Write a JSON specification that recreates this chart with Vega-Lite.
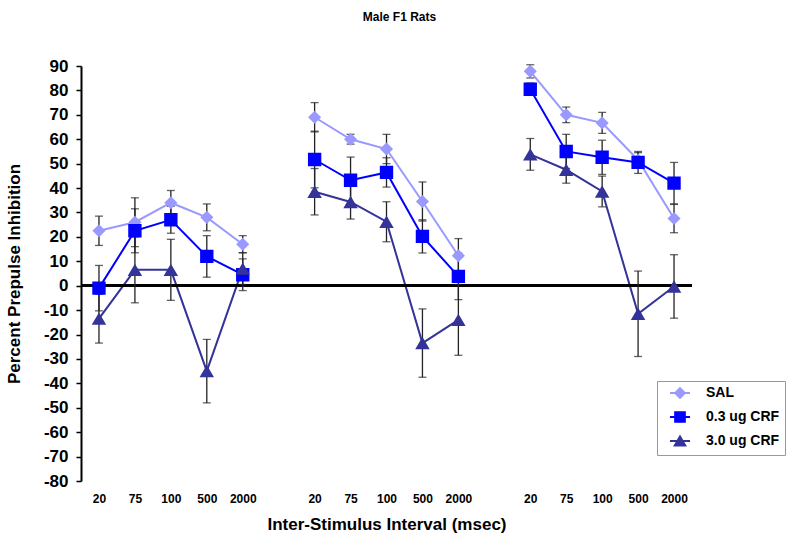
{
  "$schema": "https://vega.github.io/schema/vega-lite/v6.json",
  "width": 611,
  "height": 415,
  "autosize": {"type": "none"},
  "padding": {"left": 81, "top": 66, "right": 108, "bottom": 59},
  "background": "white",
  "title": {"text": "Male F1 Rats", "fontSize": 12, "font": "Liberation Sans", "fontWeight": "bold", "color": "black", "anchor": "middle", "offset": 33, "dx": 13},
  "config": {
    "view": {"stroke": null},
    "font": "Liberation Sans",
    "axisY": {"labelOverlap": false, "grid": false, "domainColor": "black", "domainWidth": 2, "tickColor": "black", "tickWidth": 1.5, "tickSize": 5,
      "labelPadding": 8, "labelFontSize": 17, "labelFontWeight": "bold", "labelColor": "black",
      "titleFontSize": 17, "titleFontWeight": "bold", "titleColor": "black", "titlePadding": 20},
    "legend": {"strokeColor": "#999999", "fillColor": "white", "padding": 5, "symbolOffset": 11, "labelOffset": 19,
      "rowPadding": 6, "symbolSize": 100, "symbolStrokeWidth": 2, "labelFontSize": 14, "labelFontWeight": "bold", "labelColor": "black", "labelFont": "Liberation Sans"}
  },
  "data": {"values": [
    {"slot": "1|20", "series": "SAL", "pct": 22.5, "sem": 6},
    {"slot": "1|75", "series": "SAL", "pct": 26, "sem": 10},
    {"slot": "1|100", "series": "SAL", "pct": 34, "sem": 5},
    {"slot": "1|500", "series": "SAL", "pct": 28, "sem": 5.5},
    {"slot": "1|2000", "series": "SAL", "pct": 17, "sem": 3.5},
    {"slot": "1|20", "series": "0.3 ug CRF", "pct": -1, "sem": 9.3},
    {"slot": "1|75", "series": "0.3 ug CRF", "pct": 22.5, "sem": 9},
    {"slot": "1|100", "series": "0.3 ug CRF", "pct": 27, "sem": 5.5},
    {"slot": "1|500", "series": "0.3 ug CRF", "pct": 12, "sem": 8.5},
    {"slot": "1|2000", "series": "0.3 ug CRF", "pct": 4.5, "sem": 6.5},
    {"slot": "1|20", "series": "3.0 ug CRF", "pct": -13.5, "sem": 10},
    {"slot": "1|75", "series": "3.0 ug CRF", "pct": 6.5, "sem": 13.5},
    {"slot": "1|100", "series": "3.0 ug CRF", "pct": 6.5, "sem": 12.5},
    {"slot": "1|500", "series": "3.0 ug CRF", "pct": -35, "sem": 13},
    {"slot": "1|2000", "series": "3.0 ug CRF", "pct": 7, "sem": 6.5},
    {"slot": "2|20", "series": "SAL", "pct": 69, "sem": 6},
    {"slot": "2|75", "series": "SAL", "pct": 60, "sem": 2},
    {"slot": "2|100", "series": "SAL", "pct": 56, "sem": 6},
    {"slot": "2|500", "series": "SAL", "pct": 34.5, "sem": 8},
    {"slot": "2|2000", "series": "SAL", "pct": 12.3, "sem": 7},
    {"slot": "2|20", "series": "0.3 ug CRF", "pct": 51.7, "sem": 11.6},
    {"slot": "2|75", "series": "0.3 ug CRF", "pct": 43.2, "sem": 9.5},
    {"slot": "2|100", "series": "0.3 ug CRF", "pct": 46.4, "sem": 6},
    {"slot": "2|500", "series": "0.3 ug CRF", "pct": 20.2, "sem": 6.8},
    {"slot": "2|2000", "series": "0.3 ug CRF", "pct": 3.8, "sem": 9.5},
    {"slot": "2|20", "series": "3.0 ug CRF", "pct": 38.5, "sem": 9.5},
    {"slot": "2|75", "series": "3.0 ug CRF", "pct": 34.3, "sem": 7},
    {"slot": "2|100", "series": "3.0 ug CRF", "pct": 26.2, "sem": 8.2},
    {"slot": "2|500", "series": "3.0 ug CRF", "pct": -23.5, "sem": 14},
    {"slot": "2|2000", "series": "3.0 ug CRF", "pct": -14, "sem": 14.5},
    {"slot": "3|20", "series": "SAL", "pct": 87.8, "sem": 2.7},
    {"slot": "3|75", "series": "SAL", "pct": 70, "sem": 3.2},
    {"slot": "3|100", "series": "SAL", "pct": 66.7, "sem": 4.3},
    {"slot": "3|500", "series": "SAL", "pct": 51.5, "sem": 3},
    {"slot": "3|2000", "series": "SAL", "pct": 27.5, "sem": 5.8},
    {"slot": "3|20", "series": "0.3 ug CRF", "pct": 80.5, "sem": 2.5},
    {"slot": "3|75", "series": "0.3 ug CRF", "pct": 55, "sem": 7},
    {"slot": "3|100", "series": "0.3 ug CRF", "pct": 52.6, "sem": 7},
    {"slot": "3|500", "series": "0.3 ug CRF", "pct": 50.5, "sem": 4.5},
    {"slot": "3|2000", "series": "0.3 ug CRF", "pct": 42, "sem": 8.5},
    {"slot": "3|20", "series": "3.0 ug CRF", "pct": 53.8, "sem": 6.5},
    {"slot": "3|75", "series": "3.0 ug CRF", "pct": 47.5, "sem": 5.5},
    {"slot": "3|100", "series": "3.0 ug CRF", "pct": 38.6, "sem": 6.3},
    {"slot": "3|500", "series": "3.0 ug CRF", "pct": -11.5, "sem": 17.5},
    {"slot": "3|2000", "series": "3.0 ug CRF", "pct": -0.3, "sem": 13}
  ]},
  "layer": [
    {
      "mark": {"type": "line", "strokeWidth": 2},
      "transform": [{"calculate": "split(datum.slot,'|')[0]", "as": "grp"}],
      "encoding": {
        "x": {"field": "slot", "type": "ordinal",
          "sort": ["1|20","1|75","1|100","1|500","1|2000","g1","2|20","2|75","2|100","2|500","2|2000","g2","3|20","3|75","3|100","3|500","3|2000"],
          "scale": {"type": "point", "padding": 0.5, "domain": ["1|20","1|75","1|100","1|500","1|2000","g1","2|20","2|75","2|100","2|500","2|2000","g2","3|20","3|75","3|100","3|500","3|2000"]},
          "title": "Inter-Stimulus Interval (msec)",
          "axis": {"domain": false, "ticks": false, "tickSize": 0, "grid": false, "labelPadding": 12, "labelFontSize": 12, "labelFontWeight": "bold", "labelColor": "black", "labelAngle": 0,
            "labelExpr": "indexof(datum.value,'|')>=0 ? split(datum.value,'|')[1] : ''",
            "titleFontSize": 17, "titleFontWeight": "bold", "titleColor": "black", "titlePadding": 12}},
        "y": {"field": "pct", "type": "quantitative", "title": "Percent Prepulse Inhibition",
          "scale": {"domain": [-80, 90], "nice": false, "zero": false},
          "axis": {"values": [-80,-70,-60,-50,-40,-30,-20,-10,0,10,20,30,40,50,60,70,80,90], "labelOverlap": false, "labelExpr": "'' + datum.value"}},
        "color": {"field": "series", "type": "nominal",
          "scale": {"domain": ["SAL", "0.3 ug CRF", "3.0 ug CRF"], "range": ["#9999FF", "#0000FF", "#333399"]},
          "legend": {"orient": "none", "legendX": 576, "legendY": 315, "title": null}},
        "detail": {"field": "grp"}
      }
    },
    {
      "mark": {"type": "rule", "color": "black", "strokeWidth": 2},
      "encoding": {"y": {"datum": 0, "type": "quantitative", "title": "Percent Prepulse Inhibition",
          "axis": {"values": [-80,-70,-60,-50,-40,-30,-20,-10,0,10,20,30,40,50,60,70,80,90], "labelOverlap": false, "labelExpr": "'' + datum.value"}}}
    },
    {
      "mark": {"type": "errorbar", "color": "#222222", "ticks": {"size": 8, "thickness": 1.3, "color": "#222222"}, "rule": {"strokeWidth": 1.3}},
      "encoding": {
        "x": {"field": "slot", "type": "ordinal",
          "sort": ["1|20","1|75","1|100","1|500","1|2000","g1","2|20","2|75","2|100","2|500","2|2000","g2","3|20","3|75","3|100","3|500","3|2000"]},
        "y": {"field": "pct", "type": "quantitative", "title": "Percent Prepulse Inhibition",
          "axis": {"values": [-80,-70,-60,-50,-40,-30,-20,-10,0,10,20,30,40,50,60,70,80,90], "labelOverlap": false, "labelExpr": "'' + datum.value"}},
        "yError": {"field": "sem"},
        "detail": {"field": "series"}
      }
    },
    {
      "mark": {"type": "point", "filled": true, "opacity": 1, "size": 190},
      "encoding": {
        "x": {"field": "slot", "type": "ordinal",
          "sort": ["1|20","1|75","1|100","1|500","1|2000","g1","2|20","2|75","2|100","2|500","2|2000","g2","3|20","3|75","3|100","3|500","3|2000"]},
        "y": {"field": "pct", "type": "quantitative", "title": "Percent Prepulse Inhibition",
          "axis": {"values": [-80,-70,-60,-50,-40,-30,-20,-10,0,10,20,30,40,50,60,70,80,90], "labelOverlap": false, "labelExpr": "'' + datum.value"}},
        "color": {"field": "series", "type": "nominal",
          "scale": {"domain": ["SAL", "0.3 ug CRF", "3.0 ug CRF"], "range": ["#9999FF", "#0000FF", "#333399"]},
          "legend": {"orient": "none", "legendX": 576, "legendY": 315, "title": null}},
        "shape": {"field": "series", "type": "nominal",
          "scale": {"domain": ["SAL", "0.3 ug CRF", "3.0 ug CRF"], "range": ["M-2,0H2M0,-0.95L0.95,0L0,0.95L-0.95,0Z", "M-2,0H2M-0.97,-0.97H0.97V0.97H-0.97Z", "M-2,0H2M0,-0.9L1.05,0.9L-1.05,0.9Z"]},
          "legend": {"orient": "none", "legendX": 576, "legendY": 315, "title": null}}
      }
    }
  ]
}
